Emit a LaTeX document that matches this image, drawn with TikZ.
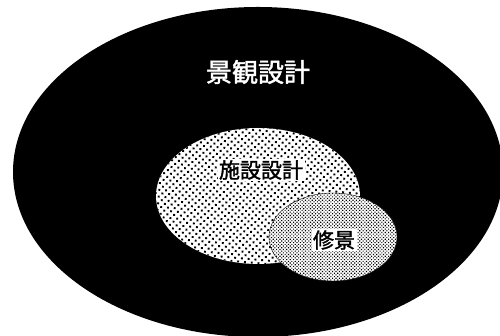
\documentclass[tikz,border=0pt]{standalone}
\usepackage{fontspec}
\newfontfamily\jp{Noto Sans CJK JP}[FakeBold = 1.6]
\usetikzlibrary{patterns.meta}

\begin{document}
\begin{tikzpicture}[x = 1pt, y = 1pt]

	% Definitions

	\def\W{500}		% Picture width
	\def\H{336}		% Picture height

	\tikzset{
		label/.style = {inner sep = 1.5 pt},
		coarse/.style = {pattern = {Dots[distance = 4.8 pt, radius = 1.35 pt, angle = 40]}, pattern color = black},
		fine/.style = {pattern = {Dots[distance = 2.4 pt, radius = 0.8 pt, angle = 45]}, pattern color = black}
	}

	\clip (0, 0) rectangle (\W, \H);

	% Landscape design (outer region)

	\fill [black] (258, 164) ellipse (245 and 165);

	% Facility design

	\fill [white] (258, 140) ellipse (102 and 68);
	\fill [coarse] (258, 140) ellipse (102 and 68);

	% Townscape repair

	\fill [white] (333, 99) ellipse (64 and 44);
	\fill [fine] (333, 99) ellipse (64 and 44);
	\draw [thin] (333, 99) ellipse (64 and 44);

	% Labels

	\node [label, text = white, font = \jp\fontsize{26}{26}\selectfont] (landscape) at (258, 264) {景観設計};
	\node [label, fill = white, font = \jp\fontsize{21}{21}\selectfont] (facility) at (261, 166) {施設設計};
	\node [label, fill = white, font = \jp\fontsize{21}{21}\selectfont] (repair) at (334, 96) {修景};

\end{tikzpicture}
\end{document}
